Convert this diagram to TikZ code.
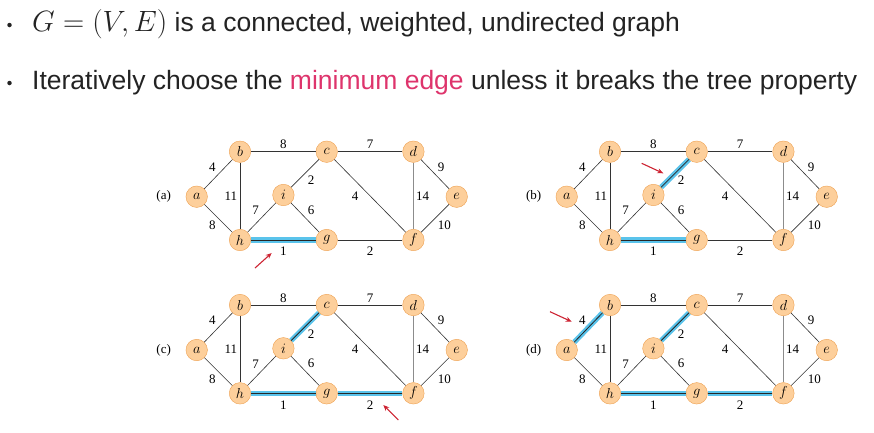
\documentclass[tikz,border=0pt]{standalone}
\usepackage{graphicx}
\usepackage{fontspec}
\setmainfont{Liberation Sans}
\newfontfamily\numfont{Liberation Serif}
\usetikzlibrary{positioning,arrows.meta}
\definecolor{vtxfill}{RGB}{253,207,155}
\definecolor{vtxdraw}{RGB}{238,160,80}
\definecolor{mstblue}{RGB}{90,195,235}
\definecolor{ptrred}{RGB}{205,35,50}
\definecolor{hlpink}{RGB}{222,52,108}
\definecolor{inkgray}{RGB}{35,35,35}
\tikzset{
  vtx/.style={circle, draw=vtxdraw, fill=vtxfill, minimum size=21.5pt,
              inner sep=0pt, font=\fontsize{15}{15}\selectfont},
  wedge/.style={draw=black!80, line width=0.6pt},
  wlab/.style={font=\numfont\fontsize{13}{13}\selectfont, inner sep=2.5pt},
  plab/.style={font=\numfont\fontsize{13}{13}\selectfont},
  mst/.style={draw=mstblue, line width=2.2pt, double=black!85, double distance=0.8pt},
  ptr/.style={-{Stealth[length=6pt,width=5pt]}, ptrred, line width=1.1pt},
  bigtext/.style={anchor=base west, inner sep=0pt, text=inkgray,
                  font=\fontsize{26.5}{30}\selectfont},
  bul/.style={circle, fill=inkgray, minimum size=4.5pt, inner sep=0pt}
}
\begin{document}
\begin{tikzpicture}[x=1pt, y=-1pt]
  \useasboundingbox (0,0) rectangle (874,432);
  % heading
  \node[bul] (bul1) at (9.5,25) {};
  \node[bul] (bul2) at (9.5,83) {};
  \node[bigtext] (ln1) at (32,31) {\scalebox{1.18}{$G=(V,E)$} is a connected, weighted, undirected graph};
  \node[bigtext] (ln2) at (32,89) {Iteratively choose the \textcolor{hlpink}{minimum edge} unless it breaks the tree property};
  % the four stages of the graph
  \foreach \p/\dx/\dy in {a/196.7/196.7, b/566.7/196.7, c/196.7/350, d/566.7/350} {
    \begin{scope}[shift={(\dx,\dy)}]
      \node[vtx] (\p-a) at (0,0) {$a$};
      \node[vtx] (\p-b) at (43.3,-45) {$b$};
      \node[vtx] (\p-c) at (130,-45) {$c$};
      \node[vtx] (\p-d) at (216.7,-45) {$d$};
      \node[vtx] (\p-e) at (260,0) {$e$};
      \node[vtx] (\p-i) at (86.7,-1.7) {$i$};
      \node[vtx] (\p-h) at (43.3,43.3) {$h$};
      \node[vtx] (\p-g) at (130,43.3) {$g$};
      \node[vtx] (\p-f) at (216.7,43.3) {$f$};
      \node[plab] (\p-lab) at (-33,0) {(\p)};
      \draw[wedge] (\p-a) -- node[wlab, above left] {4} (\p-b);
      \draw[wedge] (\p-b) -- node[wlab, above] {8} (\p-c);
      \draw[wedge] (\p-c) -- node[wlab, above] {7} (\p-d);
      \draw[wedge] (\p-d) -- node[wlab, above right] {9} (\p-e);
      \draw[wedge] (\p-b) -- node[wlab, left] {11} (\p-h);
      \draw[wedge] (\p-i) -- node[wlab, below right] {2} (\p-c);
      \draw[wedge] (\p-c) -- node[wlab, left=9pt] {4} (\p-f);
      \draw[wedge, draw=black!45] (\p-d) -- node[wlab, right] {14} (\p-f);
      \draw[wedge] (\p-h) -- node[wlab, above left] {7} (\p-i);
      \draw[wedge] (\p-i) -- node[wlab, above right] {6} (\p-g);
      \draw[wedge] (\p-e) -- node[wlab, below right] {10} (\p-f);
      \draw[wedge] (\p-a) -- node[wlab, below left] {8} (\p-h);
      \draw[wedge] (\p-h) -- node[wlab, below=4.5pt] {1} (\p-g);
      \draw[wedge] (\p-g) -- node[wlab, below=4.5pt] {2} (\p-f);
    \end{scope}
  }
  % edges taken so far
  \draw[mst] (a-h) -- (a-g);
  \draw[mst] (b-h) -- (b-g);
  \draw[mst] (b-i) -- (b-c);
  \draw[mst] (c-h) -- (c-g);
  \draw[mst] (c-i) -- (c-c);
  \draw[mst] (c-g) -- (c-f);
  \draw[mst] (d-h) -- (d-g);
  \draw[mst] (d-i) -- (d-c);
  \draw[mst] (d-g) -- (d-f);
  \draw[mst] (d-a) -- (d-b);
  % pointers to the new edge
  \coordinate (pa0) at (255,268);   \coordinate (pa1) at (271.7,253);
  \coordinate (pb0) at (641.7,163.3); \coordinate (pb1) at (663.3,173.3);
  \coordinate (pc0) at (398.3,420); \coordinate (pc1) at (383.3,405);
  \coordinate (pd0) at (550,311.7); \coordinate (pd1) at (571.7,321.7);
  \draw[ptr] (pa0) -- (pa1);
  \draw[ptr] (pb0) -- (pb1);
  \draw[ptr] (pc0) -- (pc1);
  \draw[ptr] (pd0) -- (pd1);
\end{tikzpicture}
\end{document}
